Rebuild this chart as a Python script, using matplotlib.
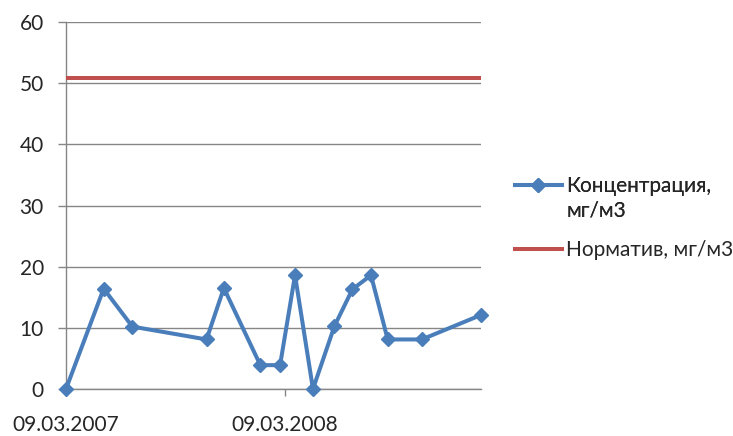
import pandas as pd
import numpy as np
import matplotlib
matplotlib.use('Agg')
import matplotlib.pyplot as plt
import matplotlib.dates as mdates
from matplotlib.lines import Line2D

plt.rcParams['font.family'] = ['Lato', 'DejaVu Sans']

# Data
dates = ['2007-03-09', '2007-05-11', '2007-06-28', '2007-10-30', '2007-11-28',
         '2008-01-28', '2008-03-01', '2008-03-26', '2008-04-25', '2008-05-31',
         '2008-06-30', '2008-07-31', '2008-08-28', '2008-10-24', '2009-01-31']
conc = [0, 16.4, 10.2, 8.1, 16.5, 3.9, 3.9, 18.6, 0, 10.3, 16.3, 18.6, 8.1, 8.1, 12.1]
norm_value = 50.9
tick_dates = ['2007-03-09', '2008-03-09']
conc_label = 'Концентрация,'
conc_label2 = 'мг/м3'
norm_label = 'Норматив, мг/м3'

blue = '#4A7EBB'
red = '#C0504D'
grid_c = '#868686'
text_c = '#262626'

x = pd.to_datetime(dates)

fig = plt.figure(figsize=(7.33, 4.36), dpi=100)
ax = fig.add_axes([66 / 733, 1 - 389 / 436, (481 - 66) / 733, (389 - 22) / 436])

ax.plot(x, [norm_value] * len(x), color=red, lw=2.9, solid_capstyle='butt', zorder=3)
ax.plot(x, conc, color=blue, lw=2.9, marker='D', markersize=7.5,
        markeredgecolor=blue, zorder=4, clip_on=False)

ax.set_xlim(x[0], x[-1])
ax.set_ylim(0, 60)
ax.set_yticks(np.arange(0, 61, 10))
ax.set_xticks(pd.to_datetime(tick_dates))
ax.xaxis.set_major_formatter(mdates.DateFormatter('%d.%m.%Y'))

ax.grid(axis='y', color=grid_c, lw=1)
ax.set_axisbelow(True)
for s in ['top', 'right']:
    ax.spines[s].set_visible(False)
for s in ['left', 'bottom']:
    ax.spines[s].set_color(grid_c)
    ax.spines[s].set_linewidth(1)

ax.tick_params(axis='y', length=6, width=1, color=grid_c, pad=10,
               labelsize=15, labelcolor=text_c)
ax.tick_params(axis='x', length=5, width=1, color=grid_c, pad=14,
               labelsize=15, labelcolor=text_c)

# legend: two-line first entry, handle beside first line
h1 = Line2D([], [], color=blue, lw=2.9, marker='D', markersize=7.5)
h_blank = Line2D([], [], linestyle='none')
h2 = Line2D([], [], color=red, lw=2.9)

leg_kw = dict(frameon=False, fontsize=15, handlelength=2.25, handletextpad=0.2,
              borderpad=0, borderaxespad=0, labelcolor=text_c)
leg1 = fig.legend([h1, h_blank], [conc_label, conc_label2], loc='center left',
                  bbox_to_anchor=(515 / 733, 1 - 198.5 / 436), labelspacing=0.2,
                  **leg_kw)
leg2 = fig.legend([h2], [norm_label], loc='center left',
                  bbox_to_anchor=(515 / 733, 1 - 250 / 436), **leg_kw)
fig.add_artist(leg1)

fig.savefig('out.png', dpi=100)
